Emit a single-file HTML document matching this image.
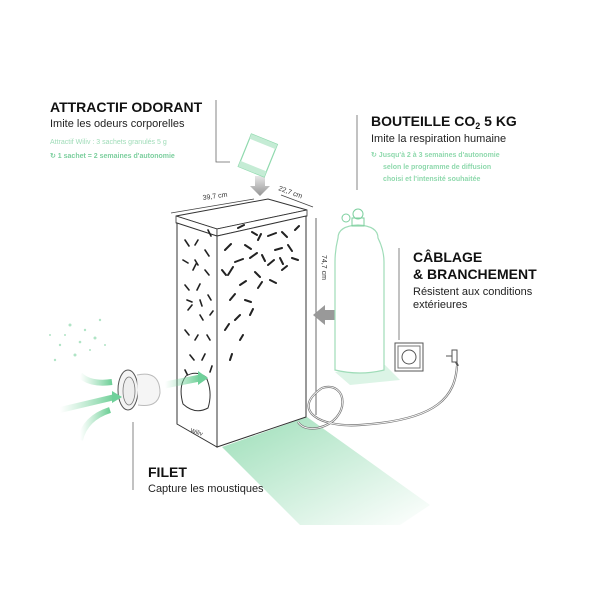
<!DOCTYPE html>
<html><head><meta charset="utf-8"><style>
body{margin:0;background:#fff;}
svg{display:block;font-family:"Liberation Sans",sans-serif;}
</style></head><body>
<svg width="600" height="600" viewBox="0 0 600 600">
<defs>
<linearGradient id="gs" x1="0" y1="0" x2="1" y2="1">
<stop offset="0" stop-color="#5cc98a" stop-opacity="0.6"/>
<stop offset="1" stop-color="#5cc98a" stop-opacity="0"/>
</linearGradient>
<linearGradient id="ga" x1="0" y1="0" x2="1" y2="0">
<stop offset="0" stop-color="#7fd6a3" stop-opacity="0"/>
<stop offset="1" stop-color="#5cc98a" stop-opacity="0.9"/>
</linearGradient>
<linearGradient id="gg" x1="0" y1="0" x2="0" y2="1">
<stop offset="0" stop-color="#888" stop-opacity="0.2"/>
<stop offset="1" stop-color="#888" stop-opacity="0.9"/>
</linearGradient>
</defs>
<polygon points="222,447 307,417 430,505 400,525 300,525" fill="url(#gs)"/>
<polygon points="335,372 385,365 400,380 350,385" fill="#a8e3c0" opacity="0.4"/>
<polygon points="176,216 217,229 307,210 268,199" fill="#fff" stroke="#333" stroke-width="1"/>
<polygon points="176,216 217,229 217,236 176,223" fill="#fff" stroke="#333" stroke-width="0.8"/>
<polygon points="217,229 307,210 307,216 217,236" fill="#fff" stroke="#333" stroke-width="0.8"/>
<polygon points="177,223 217,236 217,447 177,424" fill="#fff" stroke="#333" stroke-width="1"/>
<polygon points="217,236 306,216 306,417 217,447" fill="#fff" stroke="#333" stroke-width="1"/>
<g stroke="#222" stroke-width="2" stroke-linecap="round">
<path d="M225,250l6,-6M235,262l8,-3M228,275l5,-8M245,245l6,4M258,240l3,-6M268,236l8,-3M282,232l5,5M295,230l4,-4M250,258l7,-5M262,255l3,6M275,250l7,-2M288,245l4,6M240,285l6,-4M255,272l5,5M268,265l6,-5M280,258l3,6M230,300l5,-6M245,300l6,2M258,288l4,-6M270,280l6,3M235,320l5,-5M250,315l3,-6M225,330l4,-6M240,340l3,-5M230,360l2,-6M282,270l5,-4M292,258l6,2M222,270l4,5M238,228l6,-3M252,232l5,3"/>
<path d="M185,240l4,6M195,245l3,-5M205,250l4,6M183,260l5,3M193,270l3,-6M205,270l4,5M185,285l4,5M197,290l3,-6M208,295l3,5M188,310l4,-5M200,315l3,5M185,330l4,5M195,340l3,-5M207,335l3,5M190,355l4,5M202,360l3,-6M185,370l3,6M198,378l4,4M210,372l2,-6M195,260l3,5M208,230l3,6M187,300l5,2M200,300l2,6M210,315l3,-4" stroke-width="1.6"/>
</g>
<path d="M186,376 Q178,386 183,404 Q195,415 208,408 Q213,392 206,377 Q196,370 186,376Z" fill="#fff" stroke="#333"/>
<text x="190" y="432" font-size="6" fill="#333" transform="rotate(18 190 432)">Wiliv</text>
<line x1="171" y1="213" x2="254" y2="199" stroke="#444" stroke-width="0.8"/>
<line x1="281" y1="195" x2="313" y2="207" stroke="#444" stroke-width="0.8"/>
<line x1="316" y1="218" x2="316" y2="415" stroke="#444" stroke-width="0.8"/>
<text x="203" y="200" font-size="7" fill="#333" transform="rotate(-8 203 200)">39,7 cm</text>
<text x="278" y="190" font-size="7" fill="#333" transform="rotate(20 278 190)">22,7 cm</text>
<text x="322" y="255" font-size="7" fill="#333" transform="rotate(90 322 255)">74,7 cm</text>
<path d="M255,176h10v10h5l-10,10l-10,-10h5z" fill="url(#gg)"/>
<path d="M335,310v10h-10v5l-12,-10l12,-10v5z" fill="#999"/>
<g transform="rotate(22 258 155)">
<rect x="244" y="138" width="28" height="35" fill="#fff" stroke="#8fd9ad" stroke-width="1.2"/>
<rect x="244" y="138" width="28" height="5" fill="#c5ecd5"/>
<rect x="244" y="167" width="28" height="6" fill="#c5ecd5"/>
</g>
<path d="M338,238 Q338,226 358,225 Q378,226 378,238 Q384,250 384,262 V370 Q360,376 335,370 V262 Q335,250 338,238Z" fill="#fff" stroke="#9fdcb8" stroke-width="1.2"/>
<circle cx="358" cy="214" r="5" fill="none" stroke="#7ccf9e"/>
<circle cx="346" cy="218" r="4" fill="none" stroke="#7ccf9e"/>
<rect x="352" y="218" width="12" height="8" fill="none" stroke="#7ccf9e"/>
<rect x="395" y="343" width="28" height="28" fill="#fff" stroke="#555"/>
<rect x="398" y="346" width="22" height="22" fill="none" stroke="#777"/>
<circle cx="409" cy="357" r="7" fill="none" stroke="#555"/>
<path d="M446,356h6M452,350h5v12h-5z" fill="none" stroke="#555"/>
<path d="M456,362 L458,366" stroke="#555" stroke-width="2"/>
<path d="M457,366 C455,395 440,420 360,425 C320,428 290,410 322,388 C348,380 352,420 318,428 C305,430 300,425 298,422" fill="none" stroke="#777" stroke-width="2.2"/>
<path d="M457,366 C455,395 440,420 360,425 C320,428 290,410 322,388 C348,380 352,420 318,428 C305,430 300,425 298,422" fill="none" stroke="#fff" stroke-width="0.8"/>
<ellipse cx="128" cy="390" rx="10" ry="20" fill="#f4f4f4" stroke="#555" stroke-width="1"/>
<ellipse cx="129" cy="391" rx="6" ry="14" fill="#eee" stroke="#777" stroke-width="0.8"/>
<path d="M137,375 Q160,370 160,393 Q158,408 138,405" fill="#f5f5f5" stroke="#bbb"/>
<path d="M60,410 L115,397" stroke="url(#ga)" stroke-width="6"/>
<path d="M112,391l10,6l-10,6z" fill="#6fd09a"/>
<path d="M80,375 Q90,385 112,382" stroke="url(#ga)" stroke-width="6" fill="none"/>
<path d="M80,440 Q85,418 110,410" stroke="url(#ga)" stroke-width="6" fill="none"/>
<path d="M165,385 L200,378" stroke="url(#ga)" stroke-width="7"/>
<path d="M198,371l10,7l-10,7z" fill="#6fd09a"/>
<g fill="#8fd9ad" opacity="0.7">
<circle cx="70" cy="325" r="1.5"/><circle cx="85" cy="330" r="1.2"/><circle cx="95" cy="338" r="1.5"/><circle cx="60" cy="345" r="1.2"/><circle cx="75" cy="355" r="1.5"/><circle cx="90" cy="350" r="1"/><circle cx="100" cy="320" r="1.2"/><circle cx="55" cy="360" r="1.2"/><circle cx="65" cy="335" r="1"/><circle cx="80" cy="342" r="1.3"/><circle cx="105" cy="345" r="1"/><circle cx="50" cy="335" r="1"/>
</g>
<g stroke="#666" stroke-width="0.8" fill="none">
<path d="M216,100 V162 H230"/>
<path d="M357,115 V190"/>
<path d="M399,248 V340"/>
<path d="M133,422 V490"/>
</g>
<text x="50" y="112" font-size="14" font-weight="bold" fill="#111">ATTRACTIF ODORANT</text>
<text x="50" y="127" font-size="11" fill="#222">Imite les odeurs corporelles</text>
<text x="50" y="144" font-size="7" fill="#9fdcb8">Attractif Wiliv : 3 sachets granulés 5 g</text>
<text x="50" y="158" font-size="7" font-weight="bold" fill="#7ccf9e">↻ 1 sachet = 2 semaines d'autonomie</text>
<text x="371" y="126" font-size="14" font-weight="bold" fill="#111">BOUTEILLE CO<tspan font-size="9" dy="3">2</tspan><tspan dy="-3"> 5 KG</tspan></text>
<text x="371" y="142" font-size="11" fill="#222">Imite la respiration humaine</text>
<text x="371" y="157" font-size="7" font-weight="bold" fill="#8fd9ad">↻ Jusqu'à 2 à 3 semaines d'autonomie</text>
<text x="383" y="169" font-size="7" font-weight="bold" fill="#8fd9ad">selon le programme de diffusion</text>
<text x="383" y="181" font-size="7" font-weight="bold" fill="#8fd9ad">choisi et l'intensité souhaitée</text>
<text x="413" y="262" font-size="14" font-weight="bold" fill="#111">CÂBLAGE</text>
<text x="413" y="279" font-size="14" font-weight="bold" fill="#111">&amp; BRANCHEMENT</text>
<text x="413" y="295" font-size="11" fill="#222">Résistent aux conditions</text>
<text x="413" y="308" font-size="11" fill="#222">extérieures</text>
<text x="148" y="477" font-size="14" font-weight="bold" fill="#111">FILET</text>
<text x="148" y="492" font-size="11" fill="#222">Capture les moustiques</text>
</svg>
</body></html>
